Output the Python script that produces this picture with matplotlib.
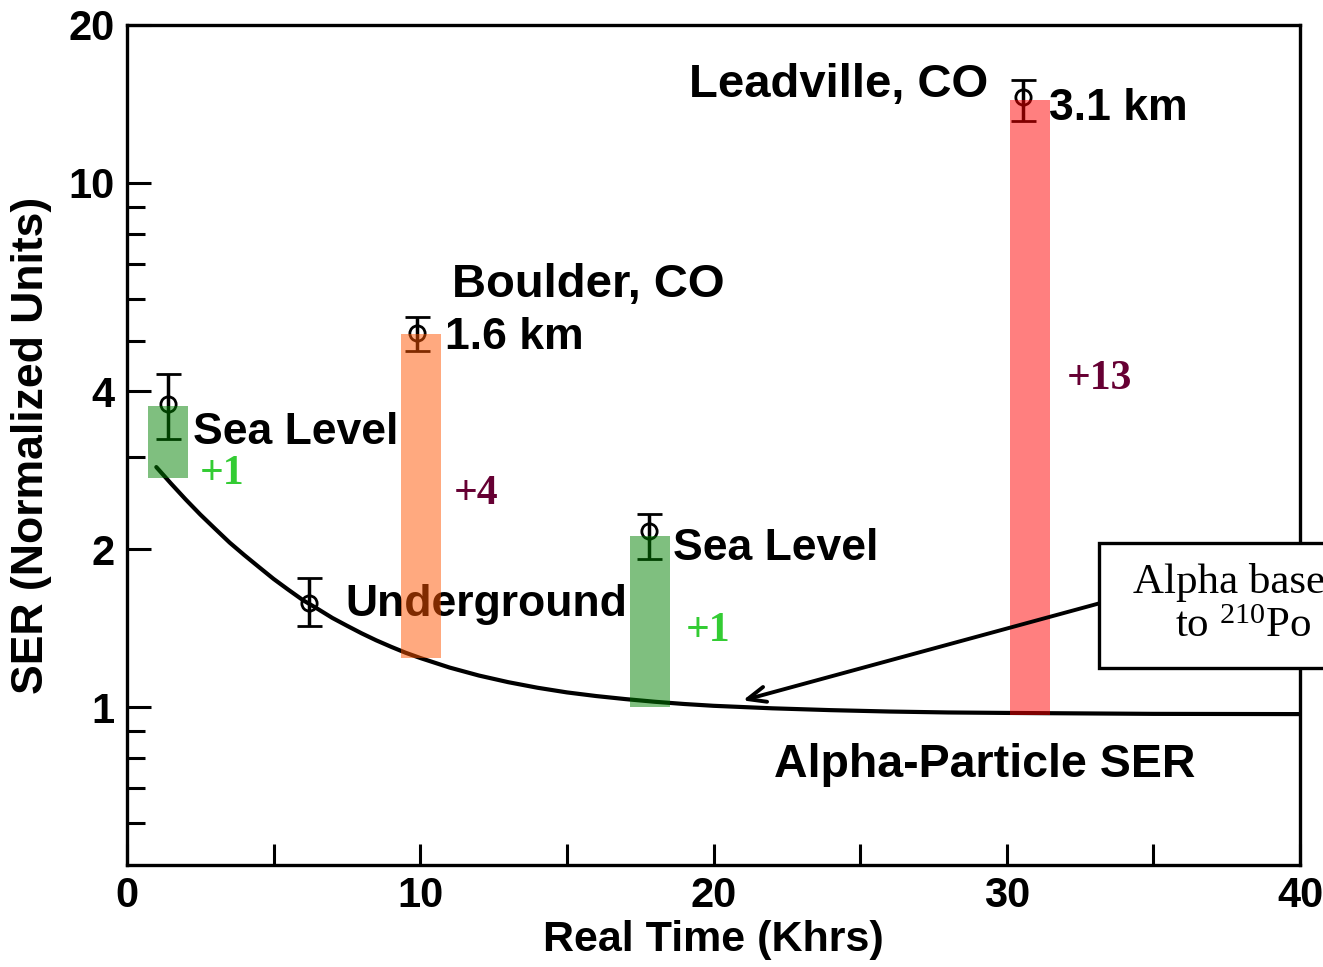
import numpy as np
import matplotlib
matplotlib.use('Agg')
import matplotlib.pyplot as plt
from matplotlib.patches import Rectangle
from matplotlib.ticker import FixedLocator, NullFormatter

plt.rcParams['font.family'] = ['Liberation Sans', 'DejaVu Sans']
plt.rcParams['mathtext.fontset'] = 'custom'
plt.rcParams['mathtext.rm'] = 'Liberation Serif'

# alpha-particle SER curve
curve_x = [1, 1.5, 2, 2.5, 3, 3.5, 4, 4.5, 5, 5.5, 6, 6.5, 7, 7.5, 8, 8.5, 9, 9.5,
           10, 11, 12, 13, 14, 15, 16, 17, 18, 19, 20, 22, 24, 26, 28, 30, 35, 40]
curve_y = [2.87, 2.67, 2.49, 2.33, 2.19, 2.06, 1.95, 1.85, 1.756, 1.675, 1.60,
           1.54, 1.48, 1.43, 1.383, 1.341, 1.304, 1.27, 1.241, 1.19, 1.149,
           1.116, 1.089, 1.067, 1.05, 1.036, 1.024, 1.014, 1.006, 0.995,
           0.987, 0.981, 0.977, 0.975, 0.971, 0.97]

# measured points with error bars
pt_x = [1.4, 6.2, 9.9, 17.8, 30.55]
pt_y = [3.78, 1.58, 5.18, 2.17, 14.6]
pt_lo = [3.25, 1.43, 4.77, 1.92, 13.1]
pt_hi = [4.31, 1.76, 5.55, 2.34, 15.7]

# coloured overlay bars
bar_x = [1.40, 10.03, 17.83, 30.78]
bar_bottom = [2.74, 1.24, 1.0, 0.966]
bar_top = [3.75, 5.15, 2.12, 14.4]
bar_colors = ['#008000', '#ff5500', '#008000', '#ff0000']
bar_width = 1.37

x_ticks = [0, 10, 20, 30, 40]
x_minor = [5, 15, 25, 35]
y_ticks = [1, 2, 4, 10, 20]
y_minor = [0.6, 0.7, 0.8, 0.9, 3, 5, 6, 7, 8, 9]

fig = plt.figure(figsize=(13.23, 9.67), dpi=100)
ax = fig.add_axes([127/1323, 1 - 865/967, (1300-127)/1323, (865-25)/967])

ax.set_yscale('log')
ax.set_xlim(0, 40)
ax.set_ylim(0.5, 20)

ax.plot(curve_x, curve_y, color='black', lw=3.0, zorder=2,
        solid_capstyle='round', solid_joinstyle='round')

yerr = [np.array(pt_y) - np.array(pt_lo), np.array(pt_hi) - np.array(pt_y)]
ax.errorbar(pt_x, pt_y, yerr=yerr, fmt='o', mfc='none', mec='black', mew=2.0,
            ms=11, ecolor='black', elinewidth=2.5, capsize=9, capthick=2.5, zorder=3)

heights = np.array(bar_top) - np.array(bar_bottom)
ax.bar(bar_x, heights, bottom=bar_bottom, width=bar_width, color=bar_colors,
       alpha=0.5, lw=0, zorder=5)

# axis styling
for s in ax.spines.values():
    s.set_linewidth(2.4)
ax.xaxis.set_major_locator(FixedLocator(x_ticks))
ax.xaxis.set_minor_locator(FixedLocator(x_minor))
ax.yaxis.set_major_locator(FixedLocator(y_ticks))
ax.yaxis.set_minor_locator(FixedLocator(y_minor))
ax.yaxis.set_minor_formatter(NullFormatter())
ax.set_xticklabels([str(v) for v in x_ticks])
ax.set_yticklabels([str(v) for v in y_ticks])
ax.tick_params(which='both', direction='in', top=False, right=False, width=2.2)
ax.tick_params(axis='y', which='major', length=17, pad=9, labelsize=30)
ax.tick_params(axis='y', which='minor', length=13)
ax.tick_params(axis='x', which='both', length=15, pad=8, labelsize=30)
for lab in ax.get_xticklabels() + ax.get_yticklabels():
    lab.set_fontweight('bold')

ax.set_xlabel('Real Time (Khrs)', fontsize=31, fontweight='bold', labelpad=3)
ax.set_ylabel('SER (Normalized Units)', fontsize=32, fontweight='bold', labelpad=12)

# scanned labels
lab_kw = dict(fontsize=32, fontweight='bold', va='baseline', ha='left', zorder=3)
ax.text(2.25, 3.18, 'Sea Level', **lab_kw)
ax.text(7.44, 1.49, 'Underground', **lab_kw)
ax.text(18.63, 1.91, 'Sea Level', **lab_kw)
ax.text(10.85, 4.81, '1.6 km', **lab_kw)
ax.text(31.43, 13.2, '3.1 km', **lab_kw)
ax.text(22.05, 0.737, 'Alpha-Particle SER', fontsize=33.5, fontweight='bold',
        va='baseline', ha='left', zorder=3)
ax.text(11.09, 6.06, 'Boulder, CO', fontsize=34, fontweight='bold',
        va='baseline', ha='left', zorder=3)
ax.text(19.15, 14.55, 'Leadville, CO', fontsize=34, fontweight='bold',
        va='baseline', ha='left', zorder=3)

# increments
inc_kw = dict(fontsize=30, fontweight='bold', family='Liberation Serif',
              va='baseline', ha='left', zorder=6)
ax.text(2.49, 2.66, '+1', color='#33cc33', **inc_kw)
ax.text(19.04, 1.34, '+1', color='#33cc33', **inc_kw)
ax.text(11.13, 2.445, '+4', color='#660033', **inc_kw)
ax.text(32.05, 4.04, '+13', color='#660033', **inc_kw)

# callout box with arrow
box = Rectangle((1099/1323, 1 - 668/967), 300/1323, 125/967,
                transform=fig.transFigure, fc='white', ec='black', lw=2.4, zorder=10)
fig.add_artist(box)
box_kw = dict(family='Liberation Serif', fontsize=31, ha='left', va='baseline', zorder=11)
fig.text(1133/1323, 1 - 593/967, 'Alpha baseline due', **box_kw)
fig.text(1175/1323, 1 - 637/967, 'to $\\mathregular{^{210}}$Po decay', **box_kw)

ax.annotate('', xy=(21.0, 1.03), xytext=(33.2, 1.58),
            arrowprops=dict(arrowstyle='->,head_length=1.3,head_width=0.55',
                            color='black', lw=2.8, shrinkA=0, shrinkB=0),
            zorder=6)

fig.savefig('out.png', dpi=100)
